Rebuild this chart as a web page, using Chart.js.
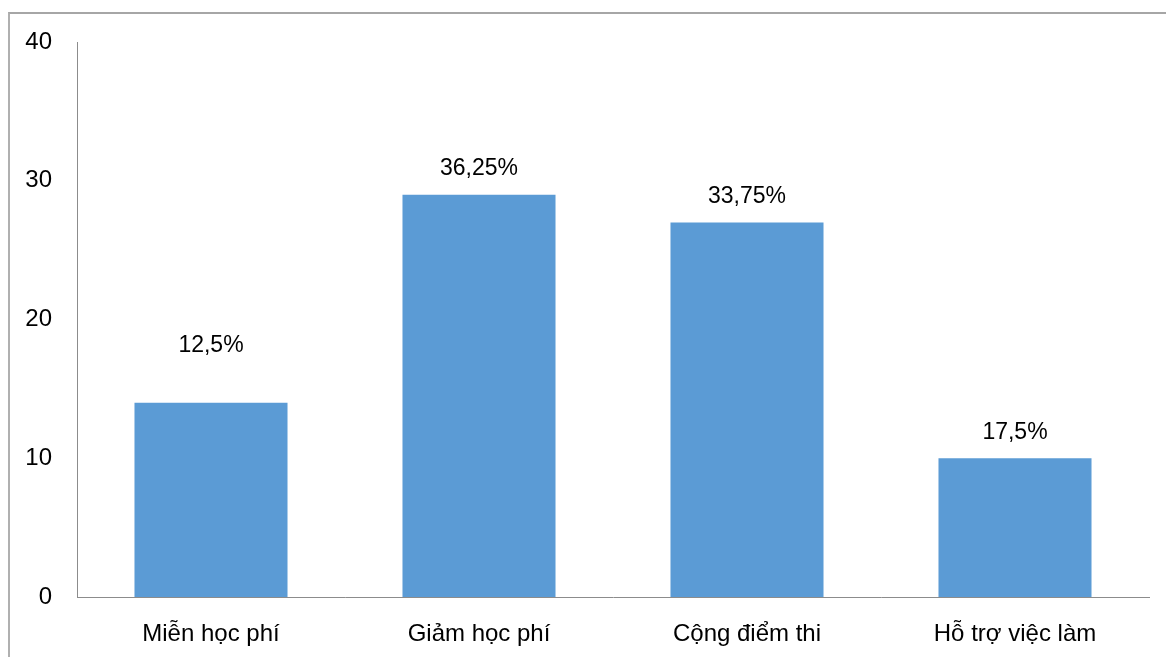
<!DOCTYPE html>
<html lang="vi">
<head>
    <meta charset="UTF-8">
    <title>Biểu đồ</title>
    <script src="https://cdn.jsdelivr.net/npm/chart.js"></script>
    <style>
        html, body { margin: 0; padding: 0; background: #fff; }
        #wrap { position: relative; width: 1166px; height: 657px; overflow: hidden; }
        #frame {
            position: absolute; left: 8px; top: 12px; width: 1200px; height: 700px;
            border-top: 2px solid #a6a6a6; border-left: 2px solid #b0b0b0;
            pointer-events: none;
        }
        canvas { position: absolute; left: 0; top: 0; }
    </style>
</head>
<body>
<div id="wrap">
    <div id="frame"></div>
    <canvas id="chart" width="1166" height="657"></canvas>
</div>
<script>
    const categories = ['Miễn học phí', 'Giảm học phí', 'Cộng điểm thi', 'Hỗ trợ việc làm'];
    const values = [14, 29, 27, 10];
    const percentLabels = ['12,5%', '36,25%', '33,75%', '17,5%'];
    const yTicks = [0, 10, 20, 30, 40];

    const FONT = '"Liberation Sans", Arial, sans-serif';

    // vẽ nhãn phần trăm phía trên cột
    const barLabels = {
        id: 'barLabels',
        afterDatasetsDraw(chart, args, opts) {
            const ctx = chart.ctx;
            const meta = chart.getDatasetMeta(0);
            ctx.save();
            ctx.font = '23px ' + FONT;
            ctx.fillStyle = '#000';
            ctx.textAlign = 'center';
            ctx.textBaseline = 'middle';
            meta.data.forEach((bar, i) => {
                ctx.fillText(percentLabels[i], bar.x, bar.y - opts.offsets[i]);
            });
            ctx.restore();
        }
    };

    new Chart(document.getElementById('chart'), {
        type: 'bar',
        data: {
            labels: categories,
            datasets: [{
                data: values,
                backgroundColor: '#5b9bd5',
                borderWidth: 0,
                categoryPercentage: 1,
                barPercentage: 0.571
            }]
        },
        options: {
            responsive: false,
            animation: false,
            layout: { padding: { top: 42, right: 17, left: 0, bottom: 0 } },
            plugins: {
                legend: { display: false },
                tooltip: { enabled: false },
                barLabels: { offsets: [57, 26, 26, 26] }
            },
            scales: {
                x: {
                    grid: { display: false, drawTicks: false },
                    border: { display: true, color: '#8c8c8c', width: 1 },
                    ticks: { color: '#000', font: { family: FONT, size: 24 }, padding: 23, maxRotation: 0 },
                    afterFit(scale) { scale.height = 60; }
                },
                y: {
                    min: 0,
                    max: 40,
                    afterBuildTicks(scale) { scale.ticks = yTicks.map(v => ({ value: v })); },
                    grid: { display: false, drawTicks: false },
                    border: { display: true, color: '#8c8c8c', width: 1 },
                    ticks: { color: '#000', font: { family: FONT, size: 24 }, padding: 25 },
                    afterFit(scale) { scale.width = 77; }
                }
            }
        },
        plugins: [barLabels]
    });
</script>
</body>
</html>
